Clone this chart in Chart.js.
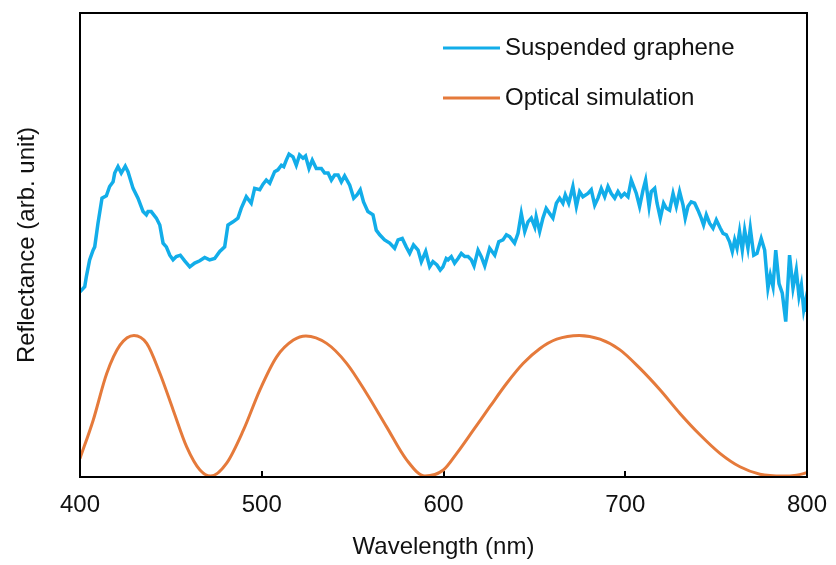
<!DOCTYPE html>
<html>
<head>
<meta charset="utf-8">
<script src="https://cdn.jsdelivr.net/npm/chart.js@4"></script>
<style>
  html, body { margin: 0; padding: 0; background: #fff; }
  #wrap { width: 836px; height: 565px; }
</style>
</head>
<body>
<div id="wrap"><canvas id="reflChart"></canvas></div>
<script>
// measured spectrum (wavelength in nm, reflectance in arb. units 0-100)
const grapheneWl = [400.0,402.6,403.5,405.3,407.2,408.1,409.9,412.1,414.5,416.3,
  418.2,419.1,420.9,422.7,424.9,426.4,429.2,431.9,434.7,436.5,
  437.4,439.2,442.0,443.9,445.7,447.5,449.4,451.2,453.0,455.2,
  457.6,460.4,463.1,465.9,468.6,471.3,474.1,476.9,479.6,481.4,
  484.2,486.9,488.7,491.5,494.2,496.1,498.9,500.7,502.5,504.4,
  507.1,508.9,510.8,512.1,513.5,515.0,517.2,519.0,520.8,522.7,
  524.1,526.0,527.8,530.0,532.8,534.6,536.5,538.3,540.1,542.0,
  543.8,545.6,548.4,550.6,552.4,554.2,556.0,558.4,561.2,563.0,
  564.9,567.6,570.4,573.1,575.0,577.3,579.5,581.4,583.5,586.0,
  587.8,590.2,592.4,594.2,596.4,598.2,599.7,601.5,602.5,604.3,
  606.1,608.0,609.8,611.7,613.5,615.3,616.8,619.0,620.8,622.7,
  625.4,628.2,630.4,632.7,634.6,636.4,639.1,641.0,642.8,644.7,
  646.5,648.3,650.2,651.0,652.9,654.7,656.5,658.4,660.2,662.1,
  663.9,665.7,667.0,668.9,671.2,673.1,674.9,676.7,679.5,681.3,
  683.2,685.0,686.8,688.7,690.5,692.3,694.2,696.0,697.8,699.6,
  701.5,703.3,706.1,707.9,709.8,711.2,713.1,714.3,716.2,717.5,
  719.3,721.1,722.6,724.4,726.3,728.1,729.9,731.8,733.0,734.5,
  736.3,738.2,740.0,741.8,743.1,744.6,746.4,748.3,750.1,752.3,
  753.8,755.6,757.4,758.9,760.2,761.5,762.9,764.4,765.7,767.5,
  768.8,770.7,772.5,774.8,776.7,778.5,779.8,781.3,782.8,784.6,
  786.4,788.3,790.4,792.3,794.1,795.6,796.9,798.2,799.3,800.0];
const grapheneVal = [39.9,41.0,43.2,46.8,48.9,49.6,54.7,60.1,60.6,62.6,
  63.6,65.5,66.9,65.5,67.0,65.8,62.2,60.1,57.2,56.5,
  57.2,57.2,55.8,54.3,50.4,49.6,47.8,46.8,47.5,47.8,
  46.6,45.3,46.1,46.6,47.3,46.8,47.1,48.6,49.6,54.3,
  55.0,55.8,57.9,60.4,59.0,62.2,61.9,63.1,64.0,63.3,
  65.8,66.2,67.2,66.9,68.3,69.6,69.0,67.2,69.4,68.7,
  69.2,66.5,68.3,66.5,66.5,65.5,65.5,64.0,65.1,65.1,
  63.6,64.9,62.9,60.1,60.8,61.9,59.3,57.2,56.5,53.2,
  52.2,51.1,50.4,49.3,51.1,51.4,49.6,48.2,50.0,48.9,
  46.4,48.6,45.3,46.4,45.7,44.6,45.3,47.1,46.8,47.5,
  46.1,47.1,48.2,47.5,47.5,46.8,45.5,48.9,47.5,45.5,
  49.3,47.8,50.7,51.1,52.2,51.8,50.4,52.5,56.8,52.9,
  55.0,55.8,53.9,56.1,52.9,55.8,57.9,56.8,55.8,59.0,
  60.1,59.0,60.8,59.0,62.6,58.3,61.5,60.4,61.1,61.9,
  58.6,60.1,62.2,60.4,62.6,61.1,60.1,61.5,60.4,61.1,
  60.4,64.0,61.1,58.3,61.9,64.0,58.3,61.5,62.2,59.0,
  55.8,59.0,57.9,57.5,61.1,58.3,61.5,58.6,55.8,58.3,
  59.3,59.0,57.5,55.8,54.3,56.5,54.7,53.6,55.4,53.6,
  52.5,52.2,50.7,48.6,51.1,49.3,52.9,48.9,53.2,49.3,
  53.6,47.8,48.2,51.4,48.9,40.7,43.5,41.0,48.9,41.7,
  39.6,33.5,47.8,40.7,44.6,38.9,41.4,36.0,38.1,35.6];

// simulated curve
const simWl = [400.0,407.3,414.7,422.0,429.7,436.7,444.0,451.3,458.7,466.0,
  471.9,480.7,489.9,499.0,508.2,517.4,524.3,535.7,546.7,557.7,
  568.7,579.7,589.8,599.9,607.3,616.4,625.6,634.8,643.9,653.1,
  662.3,674.7,686.1,697.1,708.1,719.1,730.1,741.1,752.1,763.1,
  774.1,786.9,794.2,800.0];
const simVal = [4.0,12.3,22.3,28.4,30.5,28.8,22.3,14.4,6.5,1.5,
  0.2,3.0,10.1,18.8,25.9,29.5,30.4,28.8,24.5,18.0,
  10.8,3.7,0.2,1.5,5.1,10.1,15.2,20.2,24.5,27.7,
  29.7,30.5,29.7,27.4,23.4,18.8,13.7,9.1,5.1,2.2,
  0.6,0.2,0.4,0.9];

const xTicks = [400, 500, 600, 700, 800];
const seriesNames = ["Suspended graphene", "Optical simulation"];

const FONT = "'Liberation Sans', Arial, sans-serif";
const blue = "#12ade9";
const orange = "#e57a3b";

const toPoints = (xs, ys) => xs.map((x, i) => ({ x: x, y: ys[i] }));

// frame box + legend drawn on top
const framePlugin = {
    id: "frameAndLegend",
    afterDraw(chart) {
        const { ctx, chartArea: a } = chart;
        ctx.save();
        ctx.strokeStyle = "#000";
        ctx.lineWidth = 2;
        ctx.strokeRect(a.left, a.top, a.right - a.left, a.bottom - a.top);

        ctx.font = "24px " + FONT;
        ctx.textBaseline = "middle";
        ctx.fillStyle = "#111";
        chart.data.datasets.forEach((ds, i) => {
            const y = a.top + 35 + i * 50;
            const x0 = a.right - 364;
            ctx.strokeStyle = ds.borderColor;
            ctx.lineWidth = 3;
            ctx.beginPath();
            ctx.moveTo(x0, y);
            ctx.lineTo(x0 + 57, y);
            ctx.stroke();
            ctx.fillText(ds.label, x0 + 62, y);
        });
        ctx.restore();
    }
};

new Chart(document.getElementById("reflChart"), {
    type: "line",
    data: {
        datasets: [
            {
                label: seriesNames[0],
                data: toPoints(grapheneWl, grapheneVal),
                borderColor: blue,
                borderWidth: 3.5,
                pointRadius: 0,
                tension: 0
            },
            {
                label: seriesNames[1],
                data: toPoints(simWl, simVal),
                borderColor: orange,
                borderWidth: 3,
                pointRadius: 0,
                cubicInterpolationMode: "monotone"
            }
        ]
    },
    options: {
        responsive: true,
        maintainAspectRatio: false,
        animation: false,
        layout: { padding: { left: 13, right: 29, top: 13, bottom: 3 } },
        plugins: {
            legend: { display: false },
            tooltip: { enabled: false }
        },
        scales: {
            x: {
                type: "linear",
                min: 400,
                max: 800,
                afterBuildTicks: (axis) => {
                    axis.ticks = xTicks.map((v) => ({ value: v }));
                },
                afterFit: (axis) => {
                    axis.height = 85;
                    axis.paddingLeft = 0;
                    axis.paddingRight = 0;
                },
                border: { display: false },
                grid: {
                    drawOnChartArea: false,
                    drawTicks: true,
                    tickLength: -6,
                    color: "#000",
                    lineWidth: 2
                },
                ticks: {
                    color: "#111",
                    padding: 20,
                    maxRotation: 0,
                    font: { family: FONT, size: 24 }
                },
                title: {
                    display: true,
                    text: "Wavelength (nm)",
                    color: "#111",
                    padding: 0,
                    font: { family: FONT, size: 24 }
                }
            },
            y: {
                min: 0,
                max: 100,
                afterFit: (axis) => { axis.width = 67; },
                border: { display: false },
                grid: { display: false },
                ticks: { display: false },
                title: {
                    display: true,
                    text: "Reflectance (arb. unit)",
                    color: "#111",
                    padding: 0,
                    font: { family: FONT, size: 24 }
                }
            }
        }
    },
    plugins: [framePlugin]
});
</script>
</body>
</html>
